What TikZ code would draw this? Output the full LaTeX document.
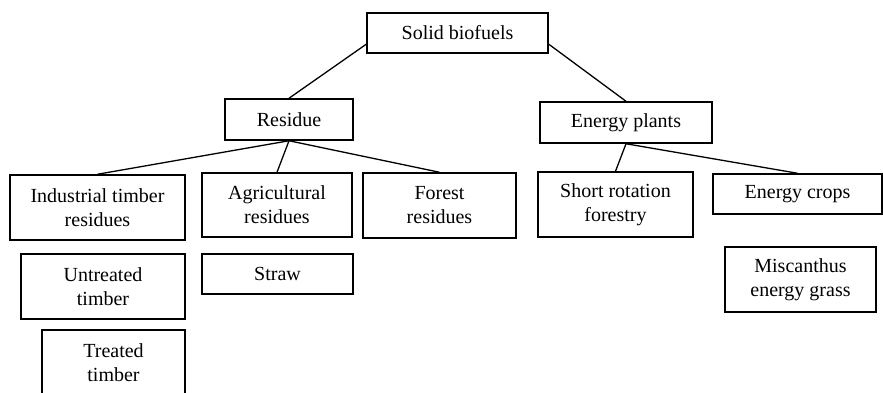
\documentclass[tikz,border=0pt]{standalone}
\usepackage{fontspec}
\setmainfont{Liberation Serif}
\usetikzlibrary{positioning}

\begin{document}
\begin{tikzpicture}
                    [x=0.5pt,y=-0.5pt,
                     box/.style={draw,line width=0.75pt,align=center,inner sep=0pt,
                                 font=\fontsize{10}{12}\selectfont},
                     link/.style={line width=0.65pt}]

                \useasboundingbox (0,0) rectangle (883,392);
                \clip (0,0) rectangle (883,392);

                % top level
                \node[box,minimum width=90.5pt,minimum height=20pt] (solid) at (457.5,33) {Solid biofuels};

                % second level
                \node[box,minimum width=64pt,minimum height=20.5pt] (residue) at (289,119.5) {Residue};
                \node[box,minimum width=86pt,minimum height=20.5pt] (plants) at (626,122.5) {Energy plants};

                % residues
                \node[box,minimum width=87.5pt,minimum height=32.5pt] (industrial) at (97.5,207.5) {Industrial timber\\residues};
                \node[box,minimum width=75pt,minimum height=32pt] (agri) at (277,205) {Agricultural\\residues};
                \node[box,minimum width=76.5pt,minimum height=32.5pt] (forest) at (439.5,205.5) {Forest\\residues};
                \node[box,minimum width=82pt,minimum height=32.5pt] (untreated) at (103,286.5) {Untreated\\timber};
                \node[box,minimum width=71.5pt,minimum height=32.5pt] (treated) at (113.5,362.5) {Treated\\timber};
                \node[box,minimum width=75.5pt,minimum height=20pt] (straw) at (277.5,274) {Straw};

                % energy plants
                \node[box,minimum width=77.5pt,minimum height=32.5pt] (shortrot) at (615.5,204.5) {Short rotation\\forestry};
                \node[box,minimum width=84.5pt,minimum height=20pt] (crops) at (797.5,194) {Energy crops};
                \node[box,minimum width=75.5pt,minimum height=32.5pt] (miscanthus) at (800.5,279.5) {Miscanthus\\energy grass};

                \draw[link] (solid.187.5) -- (residue.north);
                \draw[link] (solid.-7) -- (plants.north);

                \draw[link] (residue.south) -- (industrial.north);
                \draw[link] (residue.south) -- (agri.north);
                \draw[link] (residue.south) -- (forest.north);

                \draw[link] (plants.south) -- (shortrot.north);
                \draw[link] (plants.south) -- (crops.north);

                \end{tikzpicture}
\end{document}
